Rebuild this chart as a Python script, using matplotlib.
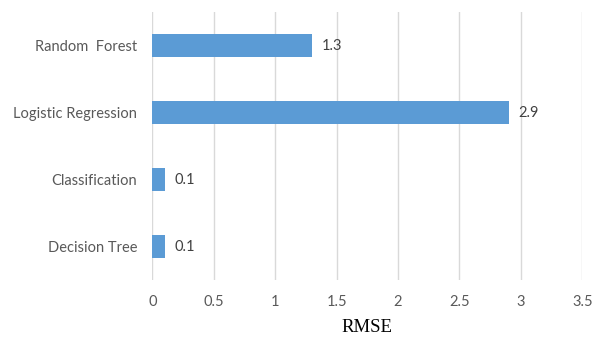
import matplotlib.pyplot as plt

# RMSE per model, bottom to top
modelos = ['Decision Tree', 'Classification', 'Logistic Regression', 'Random  Forest']
rmse = [0.1, 0.1, 2.9, 1.3]
ticks_x = [0, 0.5, 1, 1.5, 2, 2.5, 3, 3.5]
rotulos_x = ['0', '0.5', '1', '1.5', '2', '2.5', '3', '3.5']

fig = plt.figure(figsize=(5.95, 3.39), dpi=100)
ax = fig.add_axes([0.256, 0.174, 0.7227, 0.7906])

y = range(len(modelos))
ax.barh(y, rmse, height=0.34, color='#5B9BD5', zorder=3)

for i, v in zip(y, rmse):
    ax.annotate(f'{v:g}', (v, i), xytext=(7, 0), textcoords='offset points',
                va='center', ha='left', fontsize=10.5, color='#404040', family='Lato')

ax.set_xlim(0, 3.5)
ax.set_ylim(-0.5, len(modelos) - 0.5)
ax.set_xticks(ticks_x)
ax.set_xticklabels(rotulos_x)
ax.set_yticks(list(y))
ax.set_yticklabels(modelos)
ax.grid(axis='x', color='#D9D9D9', linewidth=1, zorder=0)
ax.tick_params(length=0, labelsize=10.5, labelcolor='#595959', pad=11)
for lbl in ax.get_xticklabels() + ax.get_yticklabels():
    lbl.set_family('Lato')
ax.tick_params(axis='y', pad=11)
for s in ax.spines.values():
    s.set_visible(False)

ax.set_xlabel('RMSE', family='Liberation Serif', fontsize=13.5, color='black', labelpad=7)

fig.savefig('out.png', dpi=100, facecolor='white')
